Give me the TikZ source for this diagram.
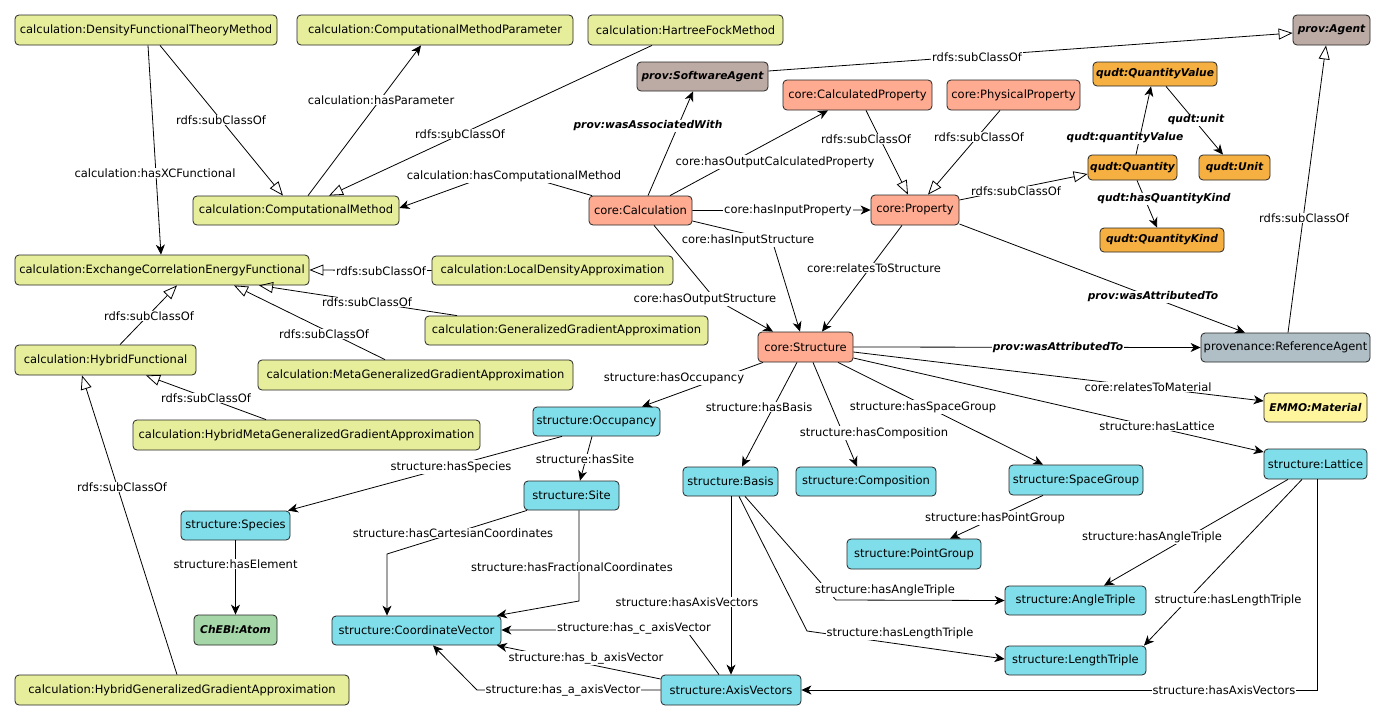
\documentclass[tikz,border=0pt]{standalone}
\usepackage{fontspec}
\setmainfont{DejaVu Sans}
\usetikzlibrary{arrows.meta}
\definecolor{ccalc}{HTML}{E6EE9C}
\definecolor{ccore}{HTML}{FFAB91}
\definecolor{cstruct}{HTML}{80DEEA}
\definecolor{cprov}{HTML}{BCAAA4}
\definecolor{cref}{HTML}{B0BEC5}
\definecolor{cqudt}{HTML}{F5B041}
\definecolor{cemmo}{HTML}{FFF59D}
\definecolor{cchebi}{HTML}{A5D6A7}
\tikzset{
 nbase/.style={draw=black!85, line width=0.8pt, rounded corners=4pt, minimum height=30pt, inner sep=0pt, font=\fontsize{11.5}{13}\selectfont, text=black},
 ncalc/.style={nbase, fill=ccalc},
 ncore/.style={nbase, fill=ccore},
 nstruct/.style={nbase, fill=cstruct},
 nprov/.style={nbase, fill=cprov, font=\fontsize{10.7}{13}\selectfont\bfseries\itshape},
 nref/.style={nbase, fill=cref},
 nqudt/.style={nbase, fill=cqudt, minimum height=25pt, font=\fontsize{10.7}{13}\selectfont\bfseries\itshape},
 nemmo/.style={nbase, fill=cemmo, font=\fontsize{10.7}{13}\selectfont\bfseries\itshape},
 nchebi/.style={nbase, fill=cchebi, font=\fontsize{10.7}{13}\selectfont\bfseries\itshape},
 elab/.style={fill=white, inner sep=1pt, font=\fontsize{11.5}{13}\selectfont},
 elabb/.style={fill=white, inner sep=1pt, font=\fontsize{10.7}{13}\selectfont\bfseries\itshape},
 rel/.style={draw, line width=0.8pt, -{Stealth[length=10pt,width=9pt,inset=3pt]}},
 isa/.style={draw, line width=0.8pt, -{Triangle[open,length=14pt,width=11pt]}},
}
\begin{document}
\begin{tikzpicture}[x=1pt,y=-1pt]
\useasboundingbox[fill=white] (0,0) rectangle (1385,720);
% nodes
\node[ncalc, minimum width=262pt] (dft) at (146,30) {calculation:DensityFunctionalTheoryMethod};
\node[ncalc, minimum width=276pt] (cmp) at (435,30) {calculation:ComputationalMethodParameter};
\node[ncalc, minimum width=195pt] (hf) at (685.5,30) {calculation:HartreeFockMethod};
\node[nprov, minimum width=77pt] (agent) at (1331.5,30) {prov:Agent};
\node[nprov, minimum width=131pt, minimum height=29pt] (sa) at (702.5,76.5) {prov:SoftwareAgent};
\node[ncore, minimum width=149pt] (cprop) at (857.5,95) {core:CalculatedProperty};
\node[ncore, minimum width=133pt] (pprop) at (1013.5,95) {core:PhysicalProperty};
\node[nqudt, minimum width=124pt, minimum height=24pt] (qv) at (1155,74) {qudt:QuantityValue};
\node[nqudt, minimum width=89pt] (qty) at (1132.5,167.5) {qudt:Quantity};
\node[nqudt, minimum width=71pt] (unit) at (1234.5,167.5) {qudt:Unit};
\node[nqudt, minimum width=124pt, minimum height=24pt] (qk) at (1162,240) {qudt:QuantityKind};
\node[ncore, minimum width=103pt, minimum height=29pt] (calc) at (640.5,210.5) {core:Calculation};
\node[ncore, minimum width=88pt] (prop) at (915,210) {core:Property};
\node[ncalc, minimum width=206pt, minimum height=29pt] (cm) at (296,210.5) {calculation:ComputationalMethod};
\node[ncalc, minimum width=294pt] (xc) at (162,270) {calculation:ExchangeCorrelationEnergyFunctional};
\node[ncalc, minimum width=241pt, minimum height=29pt] (lda) at (552.5,270.5) {calculation:LocalDensityApproximation};
\node[ncalc, minimum width=283pt, minimum height=29pt] (gga) at (566.5,330.5) {calculation:GeneralizedGradientApproximation};
\node[ncalc, minimum width=315pt] (mgga) at (415.5,375) {calculation:MetaGeneralizedGradientApproximation};
\node[ncalc, minimum width=181pt] (hyb) at (105.5,360) {calculation:HybridFunctional};
\node[ncalc, minimum width=347pt] (hmgga) at (306.5,435) {calculation:HybridMetaGeneralizedGradientApproximation};
\node[ncalc, minimum width=334pt] (hgga) at (182,690) {calculation:HybridGeneralizedGradientApproximation};
\node[ncore, minimum width=95pt] (struc) at (805.5,347) {core:Structure};
\node[nref, minimum width=169pt, minimum height=29pt] (ra) at (1285.5,347.5) {provenance:ReferenceAgent};
\node[nemmo, minimum width=103pt, minimum height=29pt] (emmo) at (1315.5,407.5) {EMMO:Material};
\node[nstruct, minimum width=103pt] (lat) at (1315.5,464) {structure:Lattice};
\node[nstruct, minimum width=127pt, minimum height=29pt] (occ) at (596.5,421.5) {structure:Occupancy};
\node[nstruct, minimum width=95pt, minimum height=29pt] (site) at (571.5,495.5) {structure:Site};
\node[nstruct, minimum width=95pt, minimum height=29pt] (basis) at (730.5,481.5) {structure:Basis};
\node[nstruct, minimum width=140pt, minimum height=29pt] (comp) at (866,481.5) {structure:Composition};
\node[nstruct, minimum width=134pt] (sg) at (1076,480) {structure:SpaceGroup};
\node[nstruct, minimum width=134pt] (pg) at (914,554) {structure:PointGroup};
\node[nstruct, minimum width=109pt, minimum height=29pt] (species) at (235.5,525.5) {structure:Species};
\node[nchebi, minimum width=83pt] (atom) at (235.5,630) {ChEBI:Atom};
\node[nstruct, minimum width=169pt, minimum height=29pt] (cv) at (416.5,630.5) {structure:CoordinateVector};
\node[nstruct, minimum width=141pt, minimum height=29pt] (at) at (1075.5,600.5) {structure:AngleTriple};
\node[nstruct, minimum width=141pt, minimum height=29pt] (lt) at (1075.5,660.5) {structure:LengthTriple};
\node[nstruct, minimum width=140pt] (av) at (731,690) {structure:AxisVectors};
% edges
\path[isa] (dft.south -| 160,0) -- (cm.north -| 283,0);
\path[rel] (dft.south -| 148,0) -- (xc.north -| 161,0);
\path[rel] (cm.north -| 308,0) -- (cmp.south -| 421,0);
\path[isa] (hf.south -| 652,0) -- (cm.north -| 329,0);
\path[rel] (calc.north -| 592,0) -- (504,170) -- (cm.east |- 0,208);
\path[isa] (sa.east |- 0,71) -- (agent.west |- 0,33);
\path[rel] (calc.north -| 648,0) -- (sa.south -| 693,0);
\path[rel] (calc.north -| 670,0) -- (cprop.south -| 828,0);
\path[isa] (cprop.south -| 866,0) -- (prop.north -| 908,0);
\path[isa] (pprop.south -| 1000,0) -- (prop.north -| 928,0);
\path[isa] (prop.east |- 0,200) -- (qty.west |- 0,174);
\path[rel] (qty.north -| 1136,0) -- (qv.south -| 1151,0);
\path[rel] (qv.south -| 1166,0) -- (unit.north -| 1223,0);
\path[rel] (qty.south -| 1137,0) -- (qk.north -| 1157,0);
\path[rel] (calc.east) -- (prop.west);
\path[rel] (calc.east |- 0,221) -- (772,240) -- (struc.north -| 800,0);
\path[rel] (calc.south -| 654,0) -- (715,299) -- (struc.north -| 773,0);
\path[rel] (prop.south -| 902,0) -- (struc.north -| 822,0);
\path[rel] (prop.east |- 0,224) -- (ra.north -| 1245,0);
\path[isa] (ra.north -| 1288,0) -- (agent.south -| 1326,0);
\path[rel] (struc.east) -- (ra.west);
\path[rel] (struc.east |- 0,352) -- (emmo.west |- 0,401);
\path[rel] (struc.east |- 0,358) -- (lat.west |- 0,452);
\path[rel] (struc.south -| 838,0) -- (sg.north -| 1043,0);
\path[rel] (struc.south -| 813,0) -- (comp.north -| 857,0);
\path[rel] (struc.south -| 797,0) -- (basis.north -| 742,0);
\path[rel] (struc.south -| 763,0) -- (occ.north -| 642,0);
\path[rel] (occ.south -| 562,0) -- (species.north -| 288,0);
\path[rel] (occ.south -| 592,0) -- (site.north -| 580,0);
\path[rel] (species.south) -- (atom.north);
\path[rel] (site.south -| 527,0) -- (387,554) -- (cv.north -| 387,0);
\path[rel] (site.south -| 579,0) -- (579,601) -- (cv.north -| 497,0);
\path[rel] (basis.south -| 731,0) -- (av.north -| 731,0);
\path[rel] (av.north -| 719,0) -- (686,630) -- (cv.east |- 0,630);
\path[rel] (av.west |- 0,679) -- (cv.south -| 497,0);
\path[rel] (av.west) -- (477,690) -- (cv.south -| 433,0);
\path[rel] (lat.south -| 1317,0) -- (1317,690) -- (av.east);
\path[rel] (lat.south -| 1288,0) -- (at.north -| 1104,0);
\path[rel] (lat.south -| 1302,0) -- (lt.north -| 1144,0);
\path[rel] (basis.south -| 745,0) -- (836,600) -- (at.west);
\path[rel] (basis.south -| 739,0) -- (807,631) -- (lt.west |- 0,659);
\path[rel] (sg.south -| 1043,0) -- (pg.north -| 950,0);
\path[isa] (lda.west) -- (xc.east);
\path[isa] (gga.north -| 457,0) -- (xc.south -| 259,0);
\path[isa] (mgga.north -| 385,0) -- (xc.south -| 234,0);
\path[isa] (hyb.north -| 120,0) -- (xc.south -| 177,0);
\path[isa] (hmgga.north -| 266,0) -- (hyb.south -| 146,0);
\path[isa] (hgga.north -| 177,0) -- (hyb.south -| 82,0);
% labels
\node[elab] (l1) at (221,120) {rdfs:subClassOf};
\node[elab] (l2) at (155,173) {calculation:hasXCFunctional};
\node[elab] (l3) at (381,100) {calculation:hasParameter};
\node[elab] (l4) at (460,134) {rdfs:subClassOf};
\node[elab] (l5) at (514,176) {calculation:hasComputationalMethod};
\node[elab] (l6) at (977,57) {rdfs:subClassOf};
\node[elabb] (l7) at (648,126) {prov:wasAssociatedWith};
\node[elab] (l8) at (775,162) {core:hasOutputCalculatedProperty};
\node[elab] (l9) at (866,139) {rdfs:subClassOf};
\node[elab] (l10) at (979,137) {rdfs:subClassOf};
\node[elab] (l11) at (1016,191) {rdfs:subClassOf};
\node[elabb] (l12) at (1125,138) {qudt:quantityValue};
\node[elabb] (l13) at (1196,120) {qudt:unit};
\node[elabb] (l14) at (1164,199) {qudt:hasQuantityKind};
\node[elab] (l15) at (788,210.5) {core:hasInputProperty};
\node[elab] (l16) at (748,240) {core:hasInputStructure};
\node[elab] (l17) at (705,299) {core:hasOutputStructure};
\node[elab] (l18) at (874,268) {core:relatesToStructure};
\node[elabb] (l19) at (1153,297) {prov:wasAttributedTo};
\node[elab] (l20) at (1304,218) {rdfs:subClassOf};
\node[elabb] (l21) at (1058,348) {prov:wasAttributedTo};
\node[elab] (l22) at (1148,387) {core:relatesToMaterial};
\node[elab] (l23) at (1157,426) {structure:hasLattice};
\node[elab] (l24) at (923,407) {structure:hasSpaceGroup};
\node[elab] (l25) at (874,433) {structure:hasComposition};
\node[elab] (l26) at (759,407) {structure:hasBasis};
\node[elab] (l27) at (674,378) {structure:hasOccupancy};
\node[elab] (l28) at (451,467) {structure:hasSpecies};
\node[elab] (l29) at (585,459) {structure:hasSite};
\node[elab] (l30) at (235.5,564) {structure:hasElement};
\node[elab] (l31) at (453,533) {structure:hasCartesianCoordinates};
\node[elab] (l32) at (572,567) {structure:hasFractionalCoordinates};
\node[elab] (l33) at (687,602) {structure:hasAxisVectors};
\node[elab] (l34) at (634,628) {structure:has\_c\_axisVector};
\node[elab] (l35) at (586,658) {structure:has\_b\_axisVector};
\node[elab] (l36) at (563,690) {structure:has\_a\_axisVector};
\node[elab] (l37) at (1224,690) {structure:hasAxisVectors};
\node[elab] (l38) at (1152,537) {structure:hasAngleTriple};
\node[elab] (l39) at (1228,600) {structure:hasLengthTriple};
\node[elab] (l40) at (885,590) {structure:hasAngleTriple};
\node[elab] (l41) at (900,633) {structure:hasLengthTriple};
\node[elab] (l42) at (995,518) {structure:hasPointGroup};
\node[elab] (l43) at (381,271) {rdfs:subClassOf};
\node[elab] (l44) at (367,302) {rdfs:subClassOf};
\node[elab] (l45) at (324,334) {rdfs:subClassOf};
\node[elab] (l46) at (149,316) {rdfs:subClassOf};
\node[elab] (l47) at (206,398) {rdfs:subClassOf};
\node[elab] (l48) at (122,487) {rdfs:subClassOf};
\end{tikzpicture}
\end{document}
